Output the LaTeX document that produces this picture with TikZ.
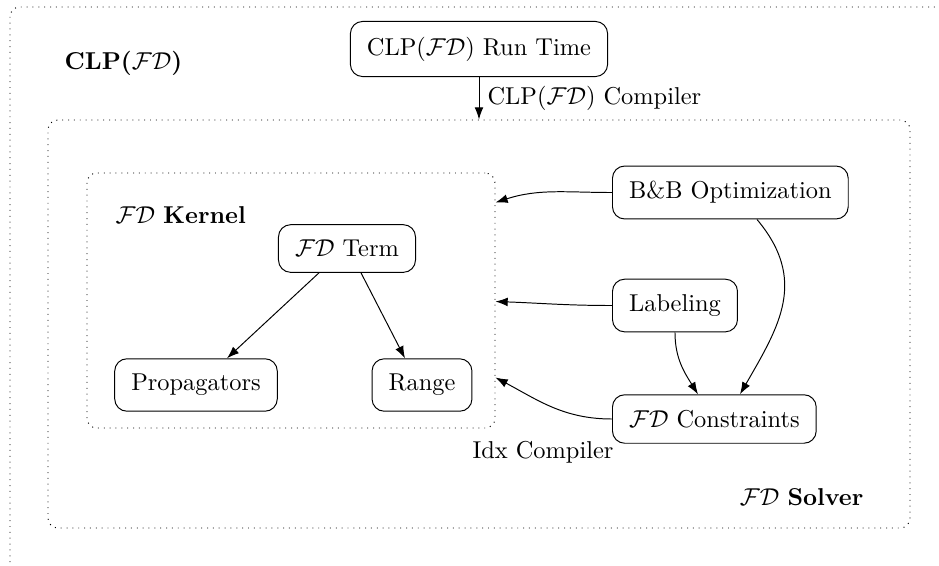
\documentclass[tikz,border=0pt]{standalone}
\usetikzlibrary{calc,arrows.meta,fit}
\begin{document}
\begin{tikzpicture}[x=0.41pt,y=-0.41pt,
  box/.style={draw,rounded corners=5pt,inner xsep=6.8pt,inner ysep=6.3pt},
  area/.style={draw,dotted,rounded corners=4pt},
  arr/.style={-{Latex[length=5pt,width=3.6pt]}}]
\useasboundingbox (0,0) rectangle (939,565);
\begin{scope}
  \clip (0,0) rectangle (939,565);
  \draw[area] (10,7) rectangle (990,610);
\end{scope}
\node[area,fit={(48,120) (910,528)},inner sep=0pt] (solver) {};
\node[area,fit={(87,173) (495,428)},inner sep=0pt] (kernel) {};

\node[anchor=west] (clp) at (56,63) {\textbf{CLP($\mathcal{FD}$)}};
\node[anchor=west] (klab) at (107,215) {$\mathcal{FD}$ \textbf{Kernel}};
\node[anchor=east] (slab) at (872,497) {$\mathcal{FD}$ \textbf{Solver}};
\node (idx) at (543,452) {Idx Compiler};

\node[box] (rt) at (479,49) {CLP($\mathcal{FD}$) Run Time};
\node[box,anchor=west] (bb) at (612,192.5) {B\&B Optimization};
\node[box,anchor=west] (lab) at (612,305.5) {Labeling};
\node[box,anchor=west] (con) at (612,419) {$\mathcal{FD}$ Constraints};
\node[box] (term) at (347,248.5) {$\mathcal{FD}$ Term};
\node[box] (prop) at (196,385) {Propagators};
\node[box] (range) at (422,385) {Range};

\coordinate (k1) at ($(kernel.north east)+(0,30)$);
\coordinate (k2) at ($(kernel.north east)+(0,129)$);
\coordinate (k3) at ($(kernel.north east)+(0,205)$);

\draw[arr] (rt.south) -- node[right] {CLP($\mathcal{FD}$) Compiler} (rt.south |- solver.north);
\draw[arr] ($(term.south)+(-28,0)$) -- ($(prop.north)+(31,0)$);
\draw[arr] ($(term.south)+(14,0)$) -- ($(range.north)+(-17,0)$);
\draw[arr] (bb.west) to[out=180,in=18] (k1);
\draw[arr] (lab.west) to[out=180,in=-2] (k2);
\draw[arr] (con.west) to[out=180,in=-28] (k3);
\draw[arr] (lab.south) to[out=-90,in=122] ($(con.north west)+(86,0)$);
\draw[arr] ($(bb.south west)+(145,0)$) to[out=-50,in=60,looseness=1.15] ($(con.north west)+(128,0)$);
\end{tikzpicture}
\end{document}
